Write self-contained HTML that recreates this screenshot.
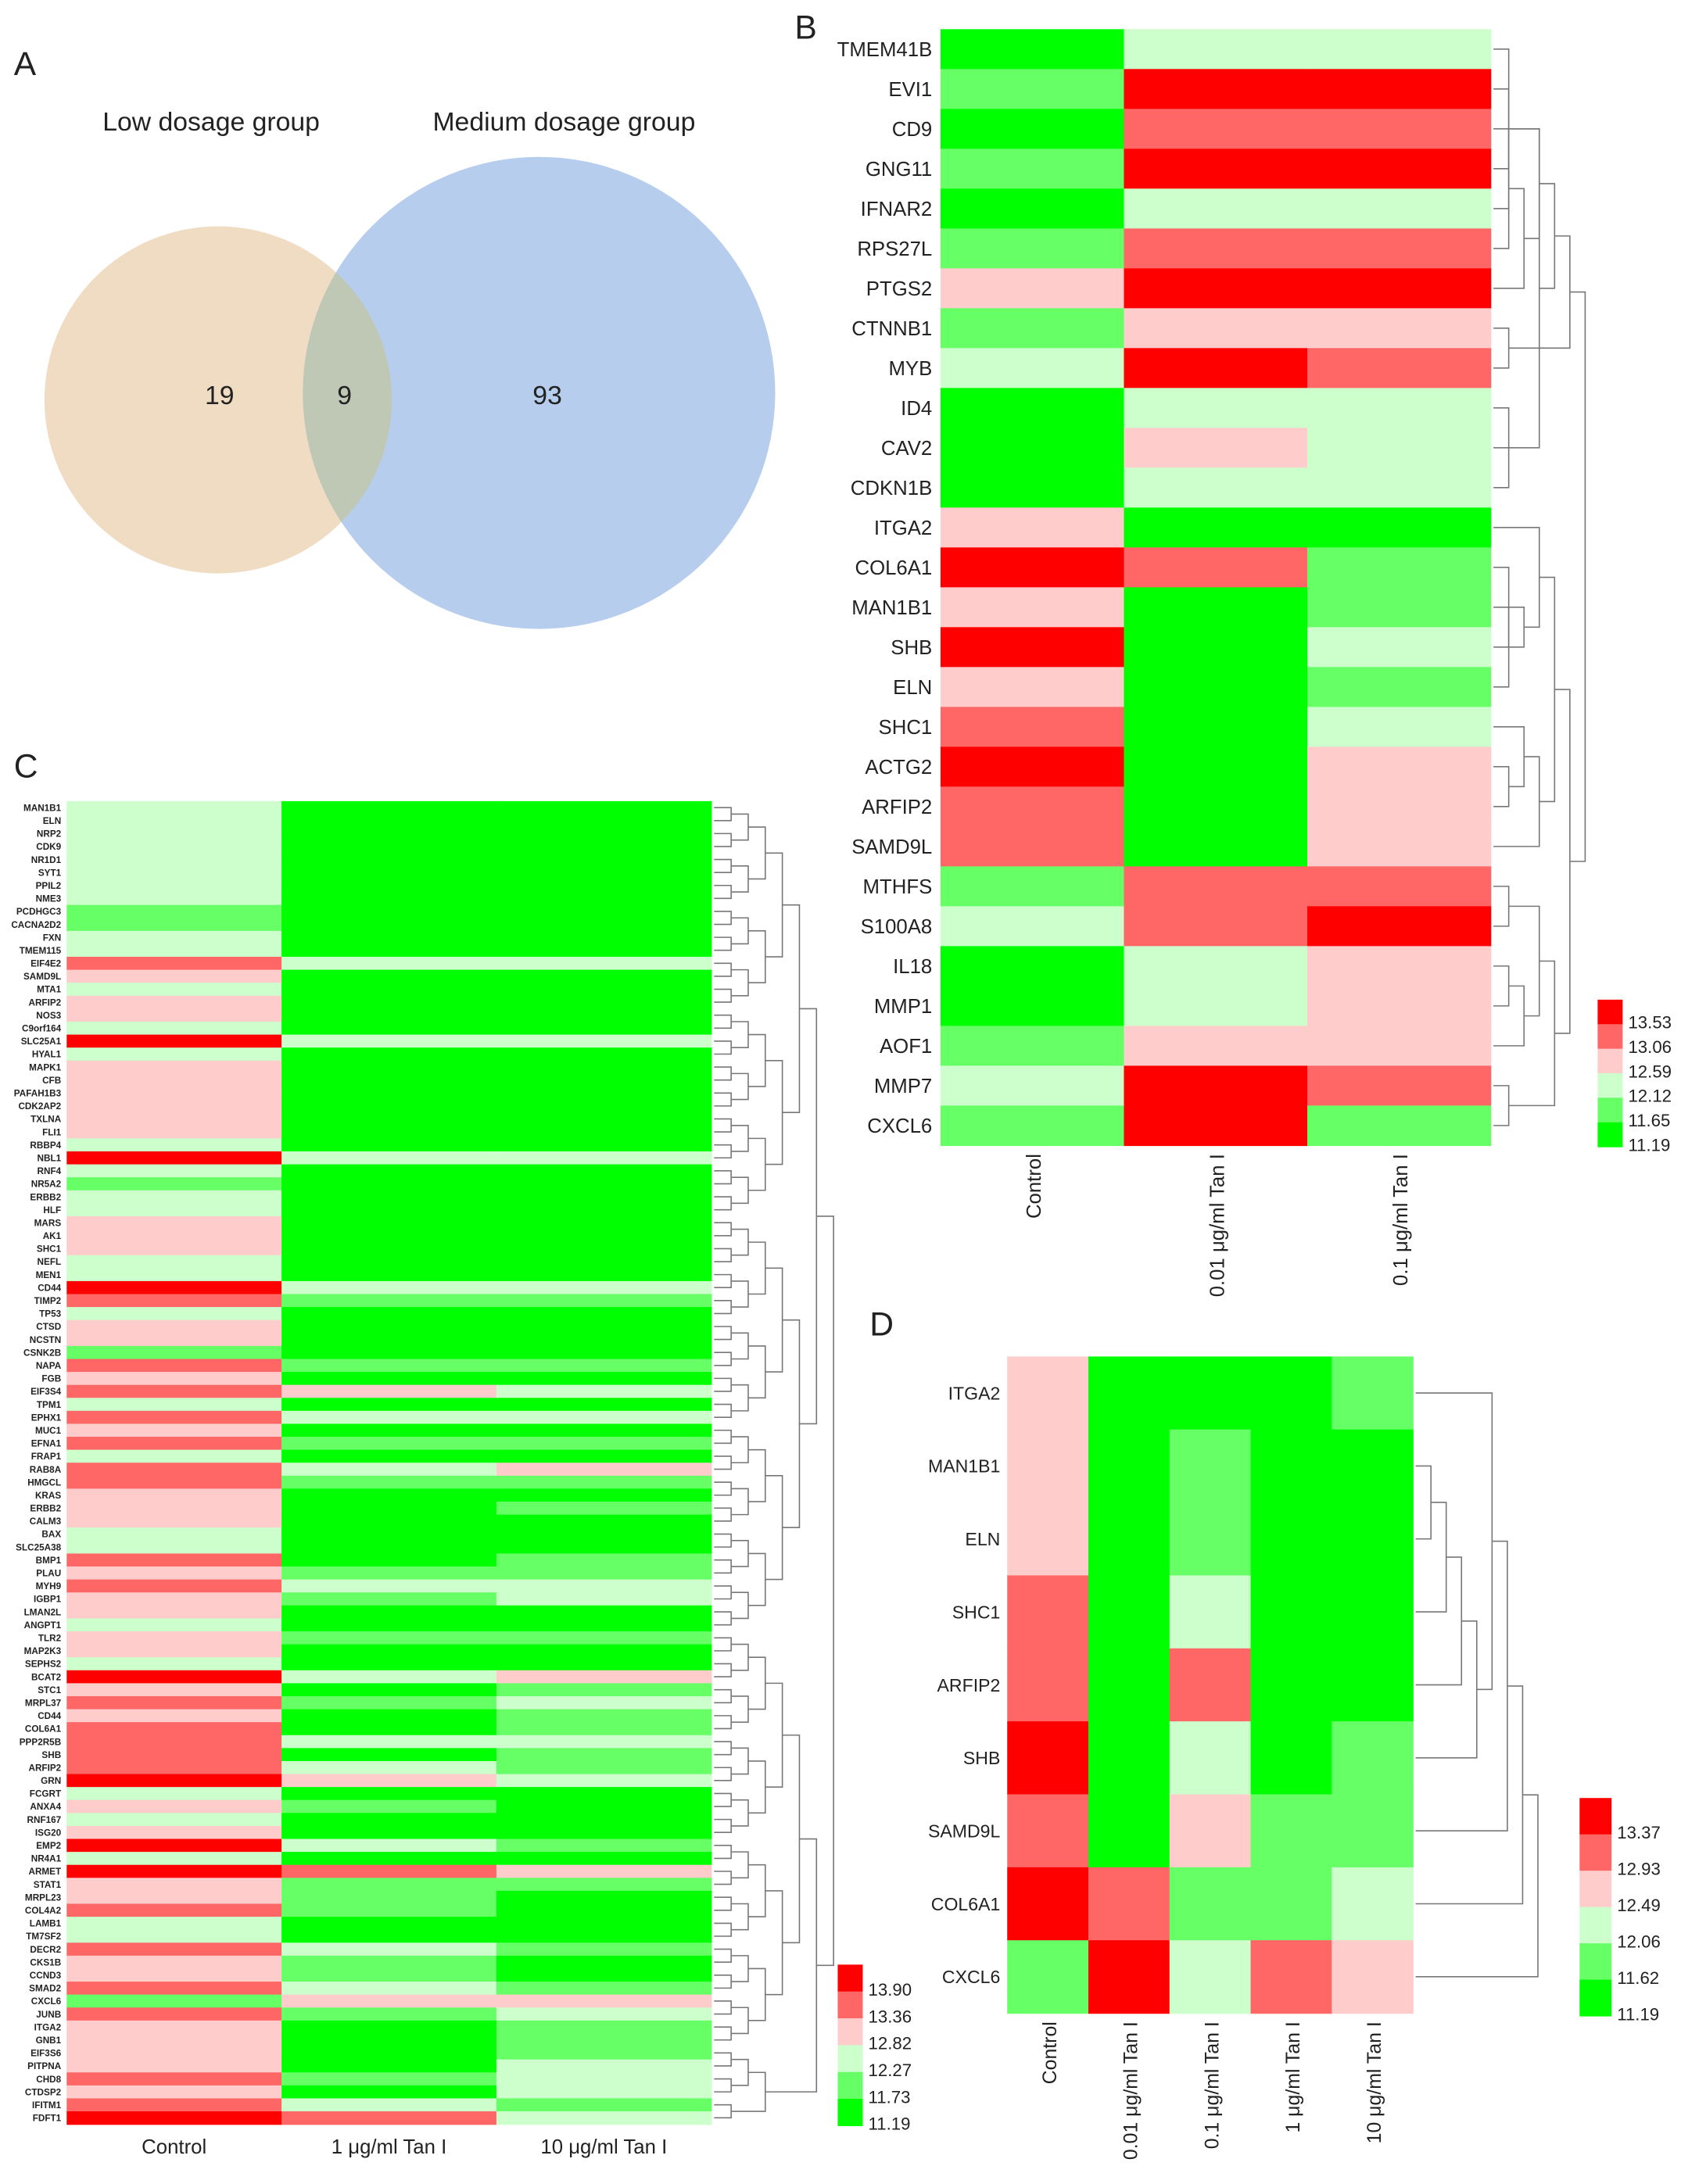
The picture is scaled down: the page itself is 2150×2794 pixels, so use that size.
<!DOCTYPE html>
<html><head><meta charset="utf-8"><style>
html,body{margin:0;padding:0;background:#fff;}
svg{display:block;}
text{font-family:"Liberation Sans",sans-serif;fill:#222;}
</style></head><body>
<svg id="fig" width="2150" height="2794" viewBox="0 0 1210 1573" preserveAspectRatio="none" xmlns="http://www.w3.org/2000/svg">
<defs><clipPath id="clipL"><circle cx="157" cy="288" r="125"/></clipPath></defs>
<g>
<text x="10" y="54" font-size="24">A</text>
<text x="152" y="94" font-size="19" text-anchor="middle">Low dosage group</text>
<text x="406" y="94" font-size="19" text-anchor="middle">Medium dosage group</text>
<circle cx="157" cy="288" r="125" fill="#efdcc2"/>
<circle cx="388" cy="283" r="170" fill="#b6cdee"/>
<circle cx="388" cy="283" r="170" fill="#bec8b4" clip-path="url(#clipL)"/>
<text x="158" y="291" font-size="19" text-anchor="middle">19</text>
<text x="248" y="291" font-size="19" text-anchor="middle">9</text>
<text x="394" y="291" font-size="19" text-anchor="middle">93</text>
</g>
<text x="572" y="28" font-size="24">B</text>
<text x="10" y="560" font-size="24">C</text>
<text x="626" y="962" font-size="24">D</text>
<g id="pb"></g>
<g id="pc"></g>
<g id="pd"></g>
</svg>
<script>
// ---------- Panel B data ----------
const bGenes = ["TMEM41B","EVI1","CD9","GNG11","IFNAR2","RPS27L","PTGS2","CTNNB1","MYB","ID4","CAV2","CDKN1B","ITGA2","COL6A1","MAN1B1","SHB","ELN","SHC1","ACTG2","ARFIP2","SAMD9L","MTHFS","S100A8","IL18","MMP1","AOF1","MMP7","CXCL6"];
const bCols = ["Control","0.01 μg/ml Tan I","0.1 μg/ml Tan I"];
const bControl = [11.4,11.9,11.4,11.9,11.4,11.9,12.8,11.9,12.35,11.4,11.4,11.4,12.8,13.6,12.8,13.6,12.8,13.3,13.6,13.3,13.3,11.9,12.35,11.4,11.4,11.9,12.35,11.9];
const bLow = [12.35,13.6,13.3,13.6,12.35,13.3,13.6,12.8,13.6,12.35,12.8,12.35,11.4,13.3,11.4,11.4,11.4,11.4,11.4,11.4,11.4,13.3,13.3,12.35,12.35,12.8,13.6,13.6];
const bMid = [12.35,13.6,13.3,13.6,12.35,13.3,13.6,12.8,13.3,12.35,12.35,12.35,11.4,11.9,11.9,12.35,11.9,12.35,12.8,12.8,12.8,13.3,13.6,12.8,12.8,12.8,13.3,11.9];
const bTicks = ["13.53","13.06","12.59","12.12","11.65","11.19"];
// ---------- Panel C data ----------
const cGenes = ["MAN1B1","ELN","NRP2","CDK9","NR1D1","SYT1","PPIL2","NME3","PCDHGC3","CACNA2D2","FXN","TMEM115","EIF4E2","SAMD9L","MTA1","ARFIP2","NOS3","C9orf164","SLC25A1","HYAL1","MAPK1","CFB","PAFAH1B3","CDK2AP2","TXLNA","FLI1","RBBP4","NBL1","RNF4","NR5A2","ERBB2","HLF","MARS","AK1","SHC1","NEFL","MEN1","CD44","TIMP2","TP53","CTSD","NCSTN","CSNK2B","NAPA","FGB","EIF3S4","TPM1","EPHX1","MUC1","EFNA1","FRAP1","RAB8A","HMGCL","KRAS","ERBB2","CALM3","BAX","SLC25A38","BMP1","PLAU","MYH9","IGBP1","LMAN2L","ANGPT1","TLR2","MAP2K3","SEPHS2","BCAT2","STC1","MRPL37","CD44","COL6A1","PPP2R5B","SHB","ARFIP2","GRN","FCGRT","ANXA4","RNF167","ISG20","EMP2","NR4A1","ARMET","STAT1","MRPL23","COL4A2","LAMB1","TM7SF2","DECR2","CKS1B","CCND3","SMAD2","CXCL6","JUNB","ITGA2","GNB1","EIF3S6","PITPNA","CHD8","CTDSP2","IFITM1","FDFT1"];
const cCols = ["Control","1 μg/ml Tan I","10 μg/ml Tan I"];
const cControl = [12.5,12.5,12.5,12.5,12.5,12.5,12.5,12.5,12.0,12.0,
12.5,12.5,13.6,13.1,12.5,13.1,13.1,12.5,13.95,12.5,
13.1,13.1,13.1,13.1,13.1,13.1,12.5,13.95,12.5,12.0,
12.5,12.5,13.1,13.1,13.1,12.5,12.5,13.95,13.6,12.5,
13.1,13.1,12.0,13.6,13.1,13.6,12.5,13.6,13.1,13.6,
12.5,13.6,13.6,13.1,13.1,13.1,12.5,12.5,13.6,13.1,
13.6,13.1,13.1,12.5,13.1,13.1,12.5,13.95,13.1,13.6,
13.1,13.6,13.6,13.6,13.6,13.95,12.5,13.1,12.5,13.1,
13.95,12.5,13.95,13.1,13.1,13.6,12.5,12.5,13.6,13.1,
13.1,13.6,12.0,13.6,13.1,13.1,13.1,13.1,13.6,13.1,
13.6,13.95];
const cT1 = [11.4,11.4,11.4,11.4,11.4,11.4,11.4,11.4,11.4,11.4,
11.4,11.4,12.5,11.4,11.4,11.4,11.4,11.4,12.5,11.4,
11.4,11.4,11.4,11.4,11.4,11.4,11.4,12.5,11.4,11.4,
11.4,11.4,11.4,11.4,11.4,11.4,11.4,12.5,12.0,11.4,
11.4,11.4,11.4,12.0,11.4,13.1,11.4,12.5,11.4,12.0,
11.4,12.5,12.0,11.4,11.4,11.4,11.4,11.4,11.4,12.0,
12.5,12.0,11.4,11.4,12.0,11.4,11.4,12.5,11.4,12.0,
11.4,11.4,12.5,11.4,12.5,13.1,11.4,12.0,11.4,11.4,
12.5,11.4,13.6,12.0,12.0,12.0,11.4,11.4,12.5,12.0,
12.0,12.5,13.1,12.0,11.4,11.4,11.4,11.4,12.0,11.4,
12.5,13.6];
const cT10 = [11.4,11.4,11.4,11.4,11.4,11.4,11.4,11.4,11.4,11.4,
11.4,11.4,12.5,11.4,11.4,11.4,11.4,11.4,12.5,11.4,
11.4,11.4,11.4,11.4,11.4,11.4,11.4,12.5,11.4,11.4,
11.4,11.4,11.4,11.4,11.4,11.4,11.4,12.5,12.0,11.4,
11.4,11.4,11.4,12.0,11.4,12.5,11.4,12.5,11.4,12.0,
11.4,13.1,12.0,11.4,12.0,11.4,11.4,11.4,12.0,12.0,
12.5,12.5,11.4,11.4,12.0,11.4,11.4,13.1,12.0,12.5,
12.0,12.0,12.5,12.0,12.0,12.5,11.4,11.4,11.4,11.4,
12.0,11.4,13.1,12.0,11.4,11.4,11.4,11.4,12.0,11.4,
11.4,12.0,13.1,12.5,12.0,12.0,12.0,12.5,12.5,12.5,
12.0,12.5];
const cTicks = ["13.90","13.36","12.82","12.27","11.73","11.19"];
// ---------- Panel D data ----------
const dGenes = ["ITGA2","MAN1B1","ELN","SHC1","ARFIP2","SHB","SAMD9L","COL6A1","CXCL6"];
const dCols = ["Control","0.01 μg/ml Tan I","0.1 μg/ml Tan I","1 μg/ml Tan I","10 μg/ml Tan I"];
const dControl = [12.7,12.7,12.7,13.1,13.1,13.45,13.1,13.45,11.8];
const dT001 = [11.4,11.4,11.4,11.4,11.4,11.4,11.4,13.1,13.45];
const dT01 = [11.4,11.8,11.8,12.25,13.1,12.25,12.7,11.8,12.25];
const dT1 = [11.4,11.4,11.4,11.4,11.4,11.4,11.8,11.8,13.1];
const dT10 = [11.8,11.4,11.4,11.4,11.4,11.8,11.8,12.25,12.7];
const dTicks = ["13.37","12.93","12.49","12.06","11.62","11.19"];

const COLORS = ["#00ff00","#66ff66","#ccffcc","#ffcccc","#ff6666","#ff0000"];
const NS = "http://www.w3.org/2000/svg";
function mk(tag, attrs, parent){const e=document.createElementNS(NS,tag);for(const k in attrs)e.setAttribute(k,attrs[k]);parent.appendChild(e);return e;}
function binOf(v, ticks){const t=ticks.map(Number).slice().reverse();let b=0;for(let i=1;i<t.length;i++){if(v>=t[i])b=i;}return b;}

function heatmap(g, cfg){
  const {genes, series, cols, ticks, x0, x1, y0, y1} = cfg;
  const cw=(x1-x0)/series.length, rh=(y1-y0)/genes.length;
  const xs=i=>x0+i*cw, ys=r=>y0+r*rh;
  series.forEach((arr,ci)=>{
    arr.forEach((v,ri)=>{
      const r=mk("rect",{x:xs(ci),y:ys(ri),width:cw+0.4,height:rh+0.4,fill:COLORS[binOf(v,ticks)]},g);
      
      
    });
  });
  genes.forEach((n,ri)=>{
    const t=mk("text",{x:x0-cfg.labGap,y:ys(ri)+rh/2+cfg.fs*0.36,"font-size":cfg.fs,"text-anchor":"end"},g);
    if(cfg.narrow){t.setAttribute("font-family","'Liberation Sans Narrow','Liberation Sans',sans-serif");t.setAttribute("font-weight","bold");t.setAttribute("fill","#333");}
    t.textContent=n;
    
    
  });
  cols.forEach((c,ci)=>{
    const cx=xs(ci)+cw/2;
    let t;
    if(cfg.rotate){
      t=mk("text",{x:cx+6,y:y1+6,"font-size":cfg.cfs,"text-anchor":"end",transform:`rotate(-90 ${cx+6} ${y1+6})`},g);
    } else {
      t=mk("text",{x:cx,y:y1+21,"font-size":cfg.cfs,"text-anchor":"middle"},g);
    }
    t.textContent=c;
    
    
  });
  // legend
  const L=cfg.leg, bh=(L.y1-L.y0)/6;
  for(let i=0;i<6;i++){
    const r=mk("rect",{x:L.x,y:L.y0+i*bh,width:L.w,height:bh+0.3,fill:COLORS[5-i]},g);
    
    
    const t=mk("text",{x:L.x+L.w+4,y:L.y0+(i+1)*bh+3,"font-size":L.fs},g);
    t.textContent=ticks[i];
    
    
  }
  // dendrogram
  if(cfg.tree){
    const dg=mk("g",{stroke:"#777","stroke-width":0.9,fill:"none"},g);
    
    
    const leafX=x1+2;
    function depth(n){return typeof n==="number"?0:1+Math.max(depth(n[0]),depth(n[1]));}
    const maxD=depth(cfg.tree), step=cfg.dw/maxD;
    function walk(n){
      if(typeof n==="number")return {y:ys(n)+rh/2,x:leafX};
      const a=walk(n[0]),b=walk(n[1]);
      const x=leafX+depth(n)*step;
      mk("path",{d:`M${a.x},${a.y}H${x}V${b.y}H${b.x}`},dg);
      return {y:(a.y+b.y)/2,x};
    }
    walk(cfg.tree);
  }
}
function pairTree(idx){let nodes=idx.slice();while(nodes.length>1){const nx=[];for(let i=0;i<nodes.length;i+=2){nx.push(i+1<nodes.length?[nodes[i],nodes[i+1]]:nodes[i]);}nodes=nx;}return nodes[0];}

heatmap(document.getElementById("pb"),{
  genes:bGenes, series:[bControl,bLow,bMid], cols:bCols, ticks:bTicks,
  x0:677,x1:1073,y0:21,y1:825, fs:14.5, cfs:14.5, labGap:6, rotate:true,
  leg:{x:1150,y0:720,y1:826,w:18,fs:12.5},
  tree:[[[[[0,4],[[9,11],10]],[[1,3],[[2,5],6]]],[7,8]],[[[12,[[14,16],[13,15]]],[[17,[18,19]],20]],[[[21,22],[[23,24],25]],[26,27]]]],
  dw:66
});
heatmap(document.getElementById("pc"),{
  genes:cGenes, series:[cControl,cT1,cT10], cols:cCols, ticks:cTicks,
  x0:48,x1:512,y0:577,y1:1530, fs:6.6, cfs:14.5, labGap:4, narrow:true, rotate:false,
  leg:{x:603,y0:1415,y1:1531,w:18,fs:12.5},
  tree:pairTree(cGenes.map((_,i)=>i)),
  dw:86
});
heatmap(document.getElementById("pd"),{
  genes:dGenes, series:[dControl,dT001,dT01,dT1,dT10], cols:dCols, ticks:dTicks,
  x0:725,x1:1017,y0:977,y1:1450, fs:13, cfs:14, labGap:5, rotate:true,
  leg:{x:1137,y0:1295,y1:1452,w:23,fs:12.5},
  tree:[[[[[[[[1,2],3],4],5],0],6],7],8],
  dw:88
});
</script>
</body></html>
